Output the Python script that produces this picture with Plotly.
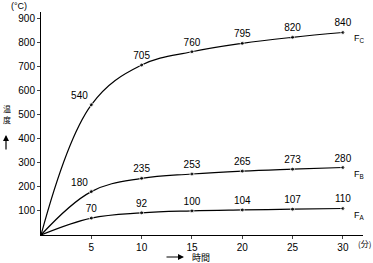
import plotly.graph_objects as go

minutes = [0, 5, 10, 15, 20, 25, 30]
fc = [0, 540, 705, 760, 795, 820, 840]
fb = [0, 180, 235, 253, 265, 273, 280]
fa = [0, 70, 92, 100, 104, 107, 110]
series = [("F<sub>C</sub>", fc), ("F<sub>B</sub>", fb), ("F<sub>A</sub>", fa)]
xticks = [5, 10, 15, 20, 25, 30]
yticks = [100, 200, 300, 400, 500, 600, 700, 800, 900]

FONT = "Liberation Sans, Arial, sans-serif"
CJK = "Noto Sans CJK JP"
fig = go.Figure()
for name, vals in series:
    txt = [""] + [str(v) for v in vals[1:]]
    pos = ["top center"] * len(vals)
    if vals[1] > 150:
        pos[1] = "top left"
    fig.add_trace(go.Scatter(
        x=minutes, y=vals, mode="lines+markers+text",
        line=dict(color="black", width=1.2, shape="spline", smoothing=1.1),
        marker=dict(color="black", size=[0] + [4] * (len(vals) - 1)),
        text=txt, textposition=pos,
        textfont=dict(family=FONT, size=10, color="black"),
        showlegend=False, cliponaxis=False))
    fig.add_annotation(x=30.9, y=vals[-1] - 30 if vals[-1] < 500 else vals[-1] - 25,
                       xref="x", yref="y", text=name, showarrow=False,
                       xanchor="left", yanchor="middle",
                       font=dict(family=FONT, size=9, color="black"))

fig.update_xaxes(range=[0, 32], tickvals=xticks, ticks="outside", ticklen=3,
                 showline=True, linecolor="black", linewidth=1, showgrid=False,
                 zeroline=False, tickfont=dict(family=FONT, size=10, color="black"))
fig.update_yaxes(range=[0, 925], tickvals=yticks, ticks="outside", ticklen=3,
                 showline=True, linecolor="black", linewidth=1, showgrid=False,
                 zeroline=False, tickfont=dict(family=FONT, size=10, color="black"))

def px(x):
    return (x - 41) / 322

def py(y):
    return (235 - y) / 223

def label(x, y, text, family, size, **kw):
    fig.add_annotation(x=px(x), y=py(y), xref="paper", yref="paper", text=text,
                       showarrow=False, xanchor="center", yanchor="middle",
                       font=dict(family=family, size=size, color="black"), **kw)

label(19, 6, "(°C)", FONT, 9)
label(7, 108, "温", CJK, 8)
label(7, 119, "度", CJK, 8)
label(201, 257, "時間", CJK, 9)
label(364, 243, "(分)", CJK, 8)
fig.add_annotation(x=px(6), y=py(135), xref="paper", yref="paper", text="",
                   showarrow=True, ax=0, ay=16, arrowhead=2, arrowsize=1, arrowwidth=1.2,
                   arrowcolor="black")
fig.add_annotation(x=px(184), y=py(257), xref="paper", yref="paper", text="",
                   showarrow=True, ax=-19, ay=0, arrowhead=2, arrowsize=1, arrowwidth=1.2,
                   arrowcolor="black")

fig.update_layout(width=373, height=263, margin=dict(l=41, r=10, t=12, b=28),
                  plot_bgcolor="white", paper_bgcolor="white")
fig.write_html("out.html")
